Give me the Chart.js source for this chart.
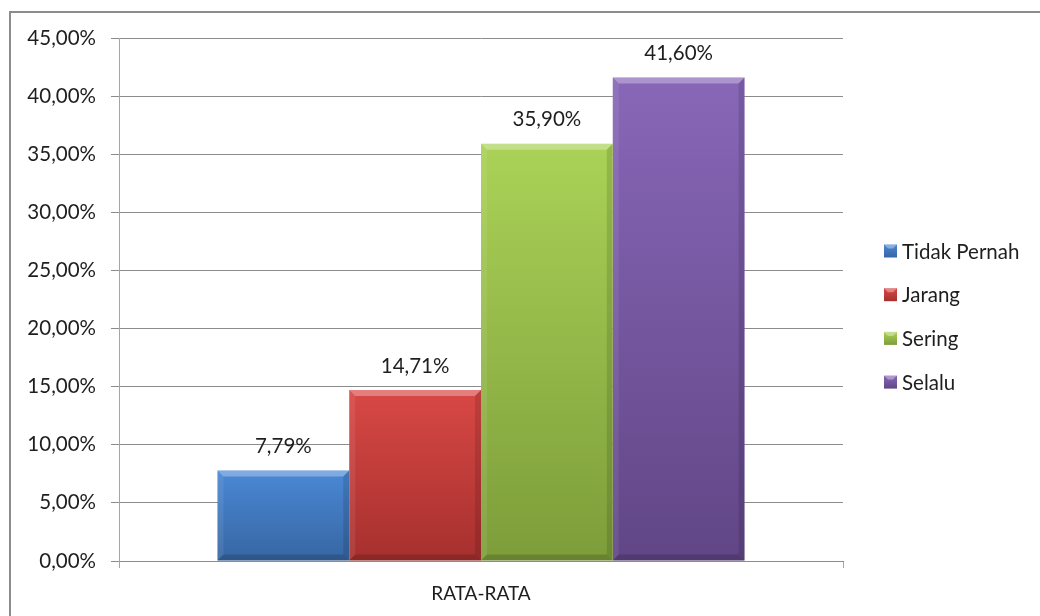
<!DOCTYPE html>
<html>
<head>
<meta charset="utf-8">
<script src="https://cdn.jsdelivr.net/npm/chart.js@4.4.1/dist/chart.umd.min.js"></script>
<style>
  html, body { margin: 0; padding: 0; background: #fff; overflow: hidden; }
  #wrap { position: relative; width: 1040px; height: 616px; }
  #frame { position: absolute; left: 9px; top: 11px; width: 1100px; height: 700px; border: 2px solid #8c8c8c; box-sizing: border-box; }
  canvas { position: absolute; left: 0; top: 0; }
</style>
</head>
<body>
<div id="wrap">
  <div id="frame"></div>
  <canvas id="chart" width="1040" height="616"></canvas>
</div>
<script>
const categories = ['RATA-RATA'];
const seriesNames = ['Tidak Pernah', 'Jarang', 'Sering', 'Selalu'];
const seriesValues = [[7.79], [14.71], [35.90], [41.60]];
const yTicks = [0, 5, 10, 15, 20, 25, 30, 35, 40, 45];

// top / bottom shades for each series
const shadeTop = ['#4a88d5', '#d84845', '#aad257', '#8867b8'];
const shadeBottom = ['#3766a3', '#a6302e', '#7d9d3a', '#614686'];

const FONT = 'Lato, Calibri, "Open Sans", sans-serif';
const FSIZE = 20.5;

function fmt(v) {
    return v.toFixed(2).replace('.', ',') + '%';
}

function barGradient(i) {
    return (ctx) => {
        const chart = ctx.chart;
        const y = chart.scales.y;
        if (!chart.chartArea || !y || ctx.raw === undefined) return shadeTop[i];
        const top = y.getPixelForValue(ctx.raw);
        const base = y.getPixelForValue(0);
        const g = chart.ctx.createLinearGradient(0, top, 0, base);
        g.addColorStop(0, shadeTop[i]);
        g.addColorStop(1, shadeBottom[i]);
        return g;
    };
}

const bevelPlugin = {
    id: 'bevel',
    afterDatasetsDraw(chart) {
        const c = chart.ctx;
        const e = 6;
        chart.data.datasets.forEach((ds, i) => {
            chart.getDatasetMeta(i).data.forEach(bar => {
                const l = bar.x - bar.width / 2, r = bar.x + bar.width / 2;
                const t = bar.y, b = bar.base;
                const poly = (pts, col) => {
                    c.beginPath();
                    c.moveTo(pts[0][0], pts[0][1]);
                    pts.slice(1).forEach(p => c.lineTo(p[0], p[1]));
                    c.closePath();
                    c.fillStyle = col;
                    c.fill();
                };
                c.save();
                poly([[l, t], [r, t], [r - e, t + e], [l + e, t + e]], 'rgba(255,255,255,0.3)');
                poly([[l, t], [l + e, t + e], [l + e, b - e], [l, b]], 'rgba(255,255,255,0.08)');
                poly([[r, t], [r, b], [r - e, b - e], [r - e, t + e]], 'rgba(0,0,0,0.12)');
                poly([[l, b], [l + e, b - e], [r - e, b - e], [r, b]], 'rgba(0,0,0,0.16)');
                c.restore();
            });
        });
    }
};

const labelPlugin = {
    id: 'valueLabels',
    afterDatasetsDraw(chart) {
        const c = chart.ctx;
        c.save();
        c.font = FSIZE + 'px ' + FONT;
        c.fillStyle = '#1e1e1e';
        c.textAlign = 'center';
        c.textBaseline = 'middle';
        chart.data.datasets.forEach((ds, i) => {
            chart.getDatasetMeta(i).data.forEach((bar, j) => {
                c.fillText(fmt(ds.data[j]), bar.x, bar.y - 24);
            });
        });
        c.restore();
    }
};

const legendPlugin = {
    id: 'sideLegend',
    afterDraw(chart) {
        const c = chart.ctx;
        c.save();
        c.font = FSIZE + 'px ' + FONT;
        c.textBaseline = 'middle';
        c.textAlign = 'left';
        chart.data.datasets.forEach((ds, i) => {
            const yc = 251 + i * 43.7;
            const x0 = 884, s = 13;
            const g = c.createLinearGradient(0, yc - s / 2, 0, yc + s / 2);
            g.addColorStop(0, shadeTop[i]);
            g.addColorStop(1, shadeBottom[i]);
            c.fillStyle = g;
            c.fillRect(x0, yc - s / 2, s, s);
            c.fillStyle = 'rgba(255,255,255,0.35)';
            c.beginPath();
            c.moveTo(x0, yc - s / 2); c.lineTo(x0 + s, yc - s / 2);
            c.lineTo(x0 + s - 4, yc - s / 2 + 4); c.lineTo(x0 + 4, yc - s / 2 + 4);
            c.closePath(); c.fill();
            c.fillStyle = '#1e1e1e';
            c.fillText(ds.label, 902, yc + 1);
        });
        c.restore();
    }
};

new Chart(document.getElementById('chart'), {
    type: 'bar',
    data: {
        labels: categories,
        datasets: seriesNames.map((name, i) => ({
            label: name,
            data: seriesValues[i],
            backgroundColor: barGradient(i),
            borderWidth: 0,
            barPercentage: 1,
            categoryPercentage: 0.728
        }))
    },
    options: {
        responsive: false,
        animation: false,
        layout: { padding: { left: 10, top: 38, right: 197, bottom: 0 } },
        plugins: { legend: { display: false }, tooltip: { enabled: false } },
        scales: {
            x: {
                grid: { display: true, offset: true, drawOnChartArea: false, drawTicks: true, tickLength: 7, color: '#a6a6a6' },
                border: { color: '#8c8c8c' },
                ticks: { font: { family: FONT, size: 19 }, color: '#1e1e1e', padding: 14 },
                afterFit(scale) { scale.height = 55; }
            },
            y: {
                min: 0,
                max: 45,
                afterBuildTicks(scale) { scale.ticks = yTicks.map(v => ({ value: v })); },
                grid: { color: '#8c8c8c', tickLength: 8, drawTicks: true },
                border: { color: '#a6a6a6' },
                ticks: { font: { family: FONT, size: FSIZE }, color: '#1e1e1e', padding: 15, callback: v => fmt(v) },
                afterFit(scale) { scale.width = 109; }
            }
        }
    },
    plugins: [bevelPlugin, labelPlugin, legendPlugin]
});
</script>
</body>
</html>
